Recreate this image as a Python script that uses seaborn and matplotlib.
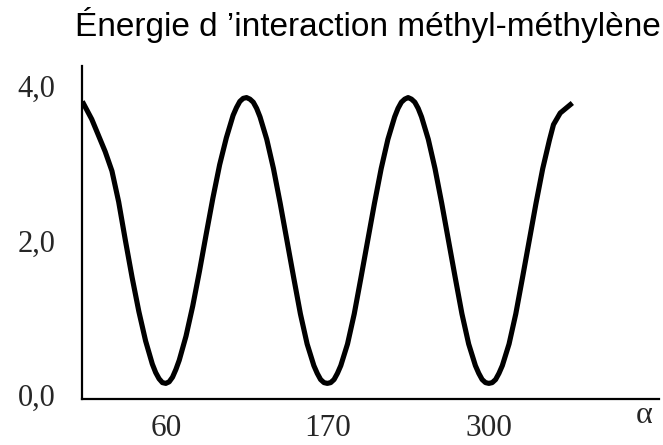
import matplotlib
matplotlib.use("Agg")
import matplotlib.pyplot as plt
import seaborn as sns
import pandas as pd

# Data
alpha = [-2, 5, 10, 15, 20, 25, 30, 35, 40, 45, 50, 52.5, 55, 57.5, 60, 62.5, 65, 67.5,
         70, 75, 80, 85, 90, 95, 100, 105, 110, 112.5, 115, 117.5, 120, 122.5, 125, 127.5,
         130, 135, 140, 145, 150, 155, 160, 165, 170, 172.5, 175, 177.5, 180, 182.5, 185,
         187.5, 190, 195, 200, 205, 210, 215, 220, 225, 230, 232.5, 235, 237.5, 240, 242.5,
         245, 247.5, 250, 255, 260, 265, 270, 275, 280, 285, 290, 292.5, 295, 297.5, 300,
         302.5, 305, 307.5, 310, 315, 320, 325, 330, 335, 340, 345, 348, 353, 362]
energy = [3.80, 3.57, 3.36, 3.15, 2.90, 2.50, 2.00, 1.52, 1.08, 0.70, 0.40, 0.29, 0.21,
          0.16, 0.15, 0.17, 0.23, 0.33, 0.45, 0.76, 1.15, 1.60, 2.08, 2.55, 2.98, 3.33,
          3.62, 3.72, 3.80, 3.84, 3.85, 3.83, 3.79, 3.71, 3.60, 3.31, 2.93, 2.48, 2.00,
          1.52, 1.05, 0.66, 0.38, 0.28, 0.20, 0.16, 0.15, 0.16, 0.20, 0.28, 0.38, 0.66,
          1.05, 1.52, 2.00, 2.48, 2.93, 3.31, 3.60, 3.71, 3.79, 3.83, 3.85, 3.83, 3.79,
          3.71, 3.60, 3.31, 2.93, 2.48, 2.00, 1.52, 1.05, 0.66, 0.38, 0.28, 0.20, 0.16,
          0.15, 0.16, 0.20, 0.28, 0.38, 0.66, 1.05, 1.52, 2.00, 2.48, 2.93, 3.30, 3.50,
          3.65, 3.78]
x_ticks = [60, 180, 300]
x_tick_labels = ["60", "170", "300"]
y_ticks = [0.0, 2.0, 4.0]
y_tick_labels = ["0,0", "2,0", "4,0"]
title = "Énergie d \u2019interaction méthyl-méthylène"
x_label = "α"

df = pd.DataFrame({"alpha": alpha, "energy": energy})

sns.set_style("white")
plt.rcParams["font.family"] = ["Liberation Sans", "DejaVu Sans"]

fig = plt.figure(figsize=(6.63, 4.45), dpi=100)
ax = fig.add_axes([0.1237, 0.1034, 0.994 - 0.1237, 0.8517 - 0.1034])

sns.lineplot(data=df, x="alpha", y="energy", color="black", linewidth=3.7,
             sort=False, ax=ax, solid_capstyle="butt", solid_joinstyle="round")

ax.set_xlim(-2.23, 426.4)
ax.set_ylim(-0.052, 4.259)

for side in ["top", "right"]:
    ax.spines[side].set_visible(False)
for side in ["left", "bottom"]:
    ax.spines[side].set_color("black")
    ax.spines[side].set_linewidth(1.6)

serif = ["Liberation Serif", "DejaVu Serif"]
ax.set_xticks(x_ticks)
ax.set_xticklabels(x_tick_labels, fontfamily=serif, fontsize=22.5)
ax.set_yticks(y_ticks)
ax.set_yticklabels(y_tick_labels, fontfamily=serif, fontsize=22)
ax.tick_params(axis="x", length=0, pad=11)
ax.tick_params(axis="y", length=0, pad=19)

ax.set_xlabel("")
ax.set_ylabel("")
ax.text(0.974, -0.072, x_label, transform=ax.transAxes, ha="center", va="baseline",
        fontfamily=serif, fontsize=23)

fig.text(367.5 / 663, 1 - 36 / 445, title, ha="center", va="baseline",
         fontsize=24, color="black")

fig.savefig("out.png", dpi=100)
